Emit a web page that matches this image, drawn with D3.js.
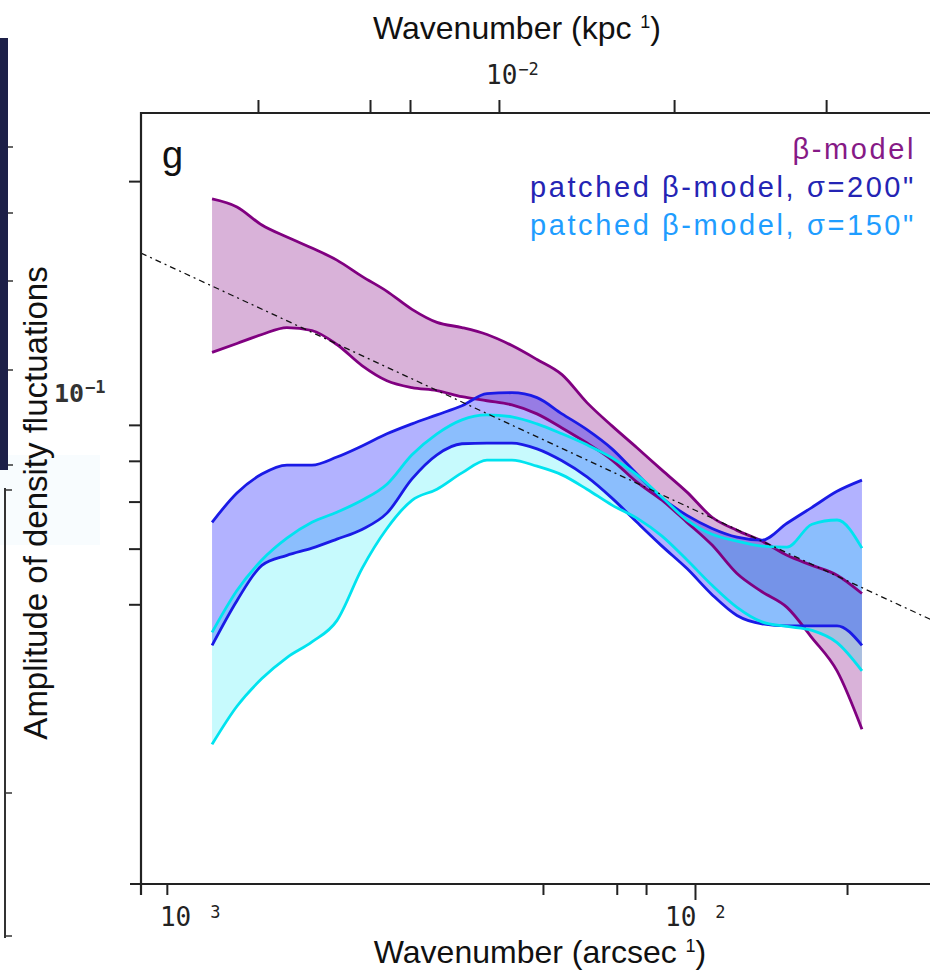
<!DOCTYPE html>
<html><head><meta charset="utf-8">
<script src="https://cdn.jsdelivr.net/npm/d3@7"></script>
<style>body{margin:0;background:#fff}svg{display:block}</style>
</head><body>
<svg id="c" width="930" height="973"></svg>
<script>
// ---------- data ----------
const wavenumber = [1.106e-3,1.239e-3,1.388e-3,1.556e-3,1.744e-3,1.954e-3,2.191e-3,2.455e-3,2.752e-3,3.084e-3,3.456e-3,3.874e-3,4.341e-3,4.866e-3,5.453e-3,6.111e-3,6.849e-3,7.676e-3,8.604e-3,9.643e-3,1.081e-2,1.211e-2,1.357e-2,1.521e-2,1.705e-2,1.911e-2,2.141e-2];
const betaUpper = [0.1887,0.1838,0.1732,0.1665,0.1606,0.1544,0.1464,0.1394,0.1314,0.1259,0.1238,0.1210,0.1167,0.1115,0.1061,0.0968,0.0897,0.0835,0.0776,0.0722,0.0665,0.0637,0.0615,0.0587,0.0568,0.0550,0.0518];
const betaLower = [0.1141,0.1175,0.1210,0.1238,0.1226,0.1171,0.1093,0.1040,0.1017,0.1007,0.0987,0.0974,0.0961,0.0933,0.0891,0.0848,0.0802,0.0746,0.0703,0.0654,0.0607,0.0553,0.0521,0.0495,0.0448,0.0402,0.0332];
const patched200Upper = [0.0654,0.0720,0.0766,0.0789,0.0789,0.0810,0.0840,0.0874,0.0903,0.0930,0.0958,0.0997,0.1000,0.0984,0.0933,0.0886,0.0832,0.0766,0.0708,0.0669,0.0641,0.0623,0.0617,0.0652,0.0687,0.0724,0.0751];
const patched200Lower = [0.0437,0.0506,0.0568,0.0587,0.0601,0.0619,0.0639,0.0674,0.0754,0.0816,0.0846,0.0848,0.0848,0.0832,0.0800,0.0759,0.0708,0.0654,0.0605,0.0562,0.0516,0.0482,0.0469,0.0466,0.0466,0.0466,0.0437];
const patched150Upper = [0.0456,0.0523,0.0578,0.0621,0.0654,0.0676,0.0703,0.0741,0.0816,0.0874,0.0915,0.0930,0.0924,0.0903,0.0874,0.0843,0.0808,0.0764,0.0710,0.0659,0.0629,0.0615,0.0605,0.0603,0.0650,0.0659,0.0601];
const patched150Lower = [0.0316,0.0358,0.0392,0.0420,0.0442,0.0474,0.0562,0.0641,0.0703,0.0729,0.0769,0.0802,0.0802,0.0786,0.0764,0.0729,0.0692,0.0663,0.0625,0.0578,0.0532,0.0495,0.0472,0.0465,0.0459,0.0441,0.0402];
const refLineK = [8e-4, 0.05];
const refLineA = [0.158, 0.0398];

const bottomMinorTicks = [9e-4, 5e-3, 7e-3, 8e-3, 2e-2];
const bottomMajorTicks = [1e-2];
const bottomLabelValues = [1e-3, 1e-2];
const bottomLabelExps = ["3", "2"];
const topTicks = [3e-3, 5e-3, 6e-3, 9e-3, 2e-2, 4e-2];
const topLabelValues = [1e-2];
const topLabelExps = ["\u22122"];
const leftTicks = [0.2, 0.09, 0.08, 0.07, 0.06, 0.05];
const leftLabelValues = [0.1];
const leftLabelExps = ["\u22121"];
const legendLabels = ["\u03b2-model", "patched \u03b2-model, \u03c3=200\"", "patched \u03b2-model, \u03c3=150\""];

// ---------- layout ----------
const svg = d3.select("#c");
const L = 141, T = 113, B = 884, R = 1048;
const x = d3.scaleLog().domain([8e-4, 0.05]).range([L, R]);
const xTop = d3.scaleLog().domain([8e-4 * 2.2, 0.05 * 2.2]).range([L, R]);
const y = d3.scaleLog().domain([0.02, 0.25]).range([B, T]);

// neighbour panel remnants on the far left
svg.append("rect").attr("x", 0).attr("y", 455).attr("width", 100).attr("height", 90).attr("fill", "#f8fcfe");
svg.append("rect").attr("x", 0).attr("y", 38).attr("width", 8).attr("height", 432).attr("fill", "#1d2048");
[147, 213, 281, 370, 465].forEach(v => svg.append("line").attr("x1", 8).attr("x2", 13).attr("y1", v).attr("y2", v).attr("stroke", "#333").attr("stroke-width", 1.5));
svg.append("line").attr("x1", 5).attr("x2", 5).attr("y1", 488).attr("y2", 938).attr("stroke", "#333").attr("stroke-width", 2);
[490, 793, 936].forEach(v => svg.append("line").attr("x1", 5).attr("x2", 12).attr("y1", v).attr("y2", v).attr("stroke", "#333").attr("stroke-width", 1.5));

// ---------- series ----------
const rows = wavenumber.map((k, i) => ({k, bu: betaUpper[i], bl: betaLower[i], pu: patched200Upper[i], pl: patched200Lower[i], cu: patched150Upper[i], cl: patched150Lower[i]}));
const series = [
  {hi: "bu", lo: "bl", line: "#800080", fill: "#800080", op: 0.3},
  {hi: "pu", lo: "pl", line: "#1a1ae6", fill: "#0000ff", op: 0.3},
  {hi: "cu", lo: "cl", line: "#00e3ef", fill: "#00e8f5", op: 0.22}
];
const g = svg.append("g");
series.forEach(s => {
  g.append("path").datum(rows)
    .attr("d", d3.area().curve(d3.curveMonotoneX).x(d => x(d.k)).y0(d => y(d[s.lo])).y1(d => y(d[s.hi])))
    .attr("fill", s.fill).attr("fill-opacity", s.op).attr("stroke", "none");
});
series.forEach(s => {
  [s.hi, s.lo].forEach(key => {
    g.append("path").datum(rows)
      .attr("d", d3.line().curve(d3.curveMonotoneX).x(d => x(d.k)).y(d => y(d[key])))
      .attr("fill", "none").attr("stroke", s.line).attr("stroke-width", 2.8).attr("stroke-linejoin", "round");
  });
});

// reference power-law (dash-dot)
const refRows = refLineK.map((k, i) => ({k, a: refLineA[i]}));
g.append("path").datum(refRows)
  .attr("d", d3.line().x(d => x(d.k)).y(d => y(d.a)))
  .attr("fill", "none").attr("stroke", "#111").attr("stroke-width", 1.3).attr("stroke-dasharray", "6,4,2,4");

// ---------- axes ----------
const tickStyle = sel => { sel.select(".domain").remove(); sel.selectAll(".tick line").attr("stroke", "#222").attr("stroke-width", 2); sel.selectAll(".tick text").remove(); };
svg.append("g").attr("transform", `translate(0,${B})`).call(d3.axisBottom(x).tickValues(bottomMinorTicks).tickSize(11).tickFormat("")).call(tickStyle);
svg.append("g").attr("transform", `translate(0,${B})`).call(d3.axisBottom(x).tickValues(bottomMajorTicks).tickSize(16).tickFormat("")).call(tickStyle);
svg.append("g").attr("transform", `translate(0,${T})`).call(d3.axisTop(xTop).tickValues(topTicks).tickSize(13).tickFormat("")).call(tickStyle);
svg.append("g").attr("transform", `translate(${L},0)`).call(d3.axisLeft(y).tickValues(leftTicks).tickSize(12).tickFormat("")).call(tickStyle);

// frame lines
const frame = svg.append("g").attr("stroke", "#222").attr("stroke-width", 2.2);
frame.append("line").attr("x1", L).attr("x2", L).attr("y1", T - 1).attr("y2", B + 11);
frame.append("line").attr("x1", L - 11).attr("x2", 930).attr("y1", B).attr("y2", B);
frame.append("line").attr("x1", L - 1).attr("x2", 930).attr("y1", T).attr("y2", T);

// tick labels
const mono = "'DejaVu Sans Mono', monospace";
bottomLabelValues.forEach((v, i) => {
  const t = svg.append("text").attr("x", x(v) - 30).attr("y", 926).attr("font-family", mono).attr("font-size", 26).attr("fill", "#222");
  t.append("tspan").text("10");
  t.append("tspan").attr("dx", 19).attr("dy", -8).attr("font-size", 17).text(bottomLabelExps[i]);
});
topLabelValues.forEach((v, i) => {
  const t = svg.append("text").attr("x", xTop(v) - 36).attr("y", 84).attr("font-family", mono).attr("font-size", 26).attr("fill", "#222");
  t.append("tspan").text("10");
  t.append("tspan").attr("dx", 1).attr("dy", -9).attr("font-size", 17).text(topLabelExps[i]);
});
leftLabelValues.forEach((v, i) => {
  const t = svg.append("text").attr("x", 54).attr("y", y(v) + 9).attr("font-family", mono).attr("font-size", 25).attr("font-weight", "bold").attr("fill", "#333");
  t.append("tspan").text("10");
  t.append("tspan").attr("dx", 1).attr("dy", -9).attr("font-size", 17).text(leftLabelExps[i]);
});

// axis titles
const sans = "'Liberation Sans', Arial, sans-serif";
const tt = svg.append("text").attr("x", 517).attr("y", 39).attr("text-anchor", "middle").attr("font-family", sans).attr("font-size", 32).attr("fill", "#111");
tt.append("tspan").text("Wavenumber (kpc ");
tt.append("tspan").attr("dy", -11).attr("font-size", 18).text("1");
tt.append("tspan").attr("dy", 11).text(")");
const bt = svg.append("text").attr("x", 540).attr("y", 963).attr("text-anchor", "middle").attr("font-family", sans).attr("font-size", 32).attr("fill", "#111");
bt.append("tspan").text("Wavenumber (arcsec ");
bt.append("tspan").attr("dy", -11).attr("font-size", 18).text("1");
bt.append("tspan").attr("dy", 11).text(")");
svg.append("text").attr("transform", "translate(47,503) rotate(-90)").attr("text-anchor", "middle")
  .attr("font-family", sans).attr("font-size", 33).attr("fill", "#111").text("Amplitude of density fluctuations");

// panel label
svg.append("text").attr("x", 162).attr("y", 168).attr("font-family", sans).attr("font-size", 38).attr("fill", "#111").text("g");

// legend
const legendColors = ["#861a86", "#2424b4", "#1f9dff"];
legendLabels.forEach((s, i) => {
  svg.append("text").attr("x", 916).attr("y", 159 + i * 38).attr("text-anchor", "end")
    .attr("font-family", sans).attr("font-size", 29).attr("letter-spacing", 2.6).attr("fill", legendColors[i]).text(s);
});
</script>
</body></html>
